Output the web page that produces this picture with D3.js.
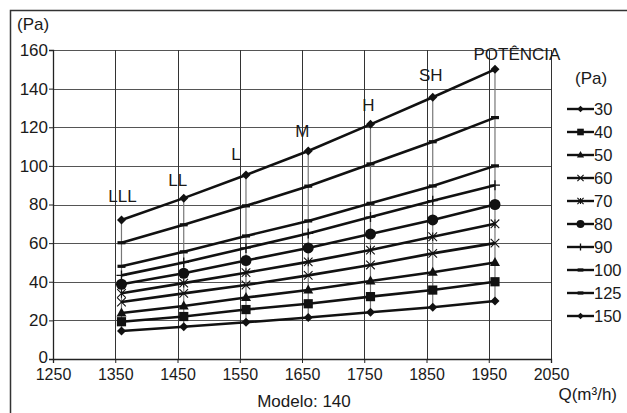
<!DOCTYPE html>
<html>
<head>
<meta charset="utf-8">
<script src="https://cdn.jsdelivr.net/npm/d3@7"></script>
<style>
  body { margin: 0; background: #fff; }
  svg text { font-family: "Liberation Sans", Arial, sans-serif; fill: #1a1a1a; }
</style>
</head>
<body>
<svg id="chart" width="627" height="413"></svg>
<script>
// airflow points (m3/h)
const flows = [1360, 1460, 1560, 1660, 1760, 1860, 1960];
// curve names = pressure at full flow
const seriesNames = ['30', '40', '50', '60', '70', '80', '90', '100', '125', '150'];
const p30  = [14.5, 16.7, 19.0, 21.5, 24.2, 26.8, 30];
const p40  = [19.3, 22.0, 25.6, 28.6, 32.3, 35.7, 40];
const p50  = [23.8, 27.4, 31.8, 35.7, 40.4, 44.9, 50];
const p60  = [29.5, 34.0, 38.3, 43.3, 48.7, 54.7, 60];
const p70  = [34.0, 39.3, 44.7, 50.3, 56.4, 63.3, 70];
const p80  = [38.7, 44.4, 51.0, 57.5, 64.7, 72.0, 80];
const p90  = [43.3, 50.0, 57.5, 65.0, 73.5, 82.0, 90];
const p100 = [48.0, 55.5, 63.7, 71.5, 80.6, 89.6, 100];
const p125 = [60.2, 69.5, 79.3, 89.5, 101.0, 112.5, 125];
const p150 = [72.0, 83.3, 95.3, 107.7, 121.5, 135.5, 150];
const seriesValues = [p30, p40, p50, p60, p70, p80, p90, p100, p125, p150];

const speedLabels = ['LLL', 'LL', 'L', 'M', 'H', 'SH', 'POTÊNCIA'];
const xTicks = [1250, 1350, 1450, 1550, 1650, 1750, 1850, 1950, 2050];
const yTicks = [0, 20, 40, 60, 80, 100, 120, 140, 160];

// styling (not data)
const markerTypes = ['diamond', 'square', 'triangle', 'x', 'star', 'circle', 'plus', 'dash', 'dash', 'diamond'];
const labelShift = [[1, 18], [-6, 12], [-10, 15], [-6, 14], [-2, 13], [-2, 16], [22, 9]];

const svg = d3.select('#chart');
const ink = '#111';

const x = d3.scaleLinear().domain([1250, 2050]).range([53, 551]);
const y = d3.scaleLinear().domain([0, 160]).range([359, 50]);

// outer frame (only top + left visible)
svg.append('path')
  .attr('d', 'M10.5,413 V10.5 H627')
  .attr('fill', 'none').attr('stroke', '#333').attr('stroke-width', 1.5);

// gridlines
const grid = svg.append('g');
grid.selectAll('line.h')
  .data(yTicks.filter(d => d > 0))
  .enter().append('line')
  .attr('x1', x(1250)).attr('x2', x(2050))
  .attr('y1', d => Math.round(y(d)) + 0.5).attr('y2', d => Math.round(y(d)) + 0.5)
  .attr('stroke', '#555').attr('stroke-width', 1);
grid.selectAll('line.v')
  .data(xTicks.filter(d => d > 1250))
  .enter().append('line')
  .attr('x1', d => Math.round(x(d)) + 0.5).attr('x2', d => Math.round(x(d)) + 0.5)
  .attr('y1', y(160)).attr('y2', y(0))
  .attr('stroke', '#333').attr('stroke-width', 1);

// drop lines joining every curve at one flow
svg.append('g').selectAll('line')
  .data(flows.map((f, i) => ({ f, vals: seriesValues.map(s => s[i]) })))
  .enter().append('line')
  .attr('x1', d => x(d.f)).attr('x2', d => x(d.f))
  .attr('y1', d => y(d3.max(d.vals))).attr('y2', d => y(d3.min(d.vals)))
  .attr('stroke', '#777').attr('stroke-width', 1.2);

// axes
const xAxis = svg.append('g')
  .attr('transform', `translate(0,${y(0)})`)
  .call(d3.axisBottom(x).tickValues(xTicks).tickSize(4).tickPadding(6).tickFormat(d3.format('d')));
const yAxis = svg.append('g')
  .attr('transform', `translate(${x(1250)},0)`)
  .call(d3.axisLeft(y).tickValues(yTicks).tickSize(4).tickPadding(1));
[xAxis, yAxis].forEach(a => {
  a.select('.domain').attr('stroke', '#222').attr('stroke-width', 1.3);
  a.selectAll('.tick line').attr('stroke', '#222');
  a.selectAll('text').attr('font-size', 16).attr('fill', '#1a1a1a')
    .attr('font-family', '"Liberation Sans", Arial, sans-serif');
});
yAxis.selectAll('text').attr('font-size', 17);
// the zero label sits a touch higher so it clears the 1250 label
yAxis.selectAll('.tick').filter(d => d === 0).select('text').attr('dy', '0.2em');

// marker drawing
function drawMarker(g, type, s) {
  const k = s;
  if (type === 'diamond') {
    g.append('path').attr('d', `M0,${-4.5 * k}L${4.5 * k},0L0,${4.5 * k}L${-4.5 * k},0Z`).attr('fill', ink);
  } else if (type === 'square') {
    g.append('rect').attr('x', -4.6 * k).attr('y', -4.6 * k).attr('width', 9.2 * k).attr('height', 9.2 * k).attr('fill', ink);
  } else if (type === 'triangle') {
    g.append('path').attr('d', `M0,${-5.5 * k}L${5 * k},${3.5 * k}L${-5 * k},${3.5 * k}Z`).attr('fill', ink);
  } else if (type === 'x') {
    const r = 4.3 * k;
    g.append('path').attr('d', `M${-r},${-r}L${r},${r}M${-r},${r}L${r},${-r}`).attr('stroke', ink).attr('stroke-width', 1.1);
  } else if (type === 'star') {
    const r = 4.3 * k;
    g.append('path').attr('d', `M${-r},${-r}L${r},${r}M${-r},${r}L${r},${-r}M0,${-r}V${r}`).attr('stroke', ink).attr('stroke-width', 1.1);
  } else if (type === 'circle') {
    g.append('circle').attr('r', 5.5 * k).attr('fill', ink);
  } else if (type === 'plus') {
    const r = 5 * k;
    g.append('path').attr('d', `M0,${-r}V${r}M${-r},0H${r}`).attr('stroke', ink).attr('stroke-width', 1.3);
  } else if (type === 'dash') {
    g.append('rect').attr('x', -4 * k).attr('y', -1.6).attr('width', 8 * k).attr('height', 3.2).attr('fill', ink);
  }
}

// curves
const line = d3.line().x(d => x(d.f)).y(d => y(d.v));
const curves = svg.append('g').selectAll('g')
  .data(seriesNames.map((n, i) => ({ name: n, type: markerTypes[i], pts: flows.map((f, j) => ({ f, v: seriesValues[i][j] })) })))
  .enter().append('g');
curves.append('path')
  .attr('d', d => line(d.pts))
  .attr('fill', 'none').attr('stroke', ink).attr('stroke-width', 2.6);
curves.each(function (d) {
  const g = d3.select(this);
  d.pts.forEach(p => {
    drawMarker(g.append('g').attr('transform', `translate(${x(p.f)},${y(p.v)})`), d.type, 1);
  });
});

// speed labels above top curve
svg.append('g').selectAll('text')
  .data(speedLabels)
  .enter().append('text')
  .attr('x', (d, i) => x(flows[i]) + labelShift[i][0])
  .attr('y', (d, i) => y(p150[i]) - labelShift[i][1])
  .attr('text-anchor', 'middle')
  .attr('font-size', 17)
  .text(d => d);

// axis titles
svg.append('text').attr('x', 17).attr('y', 30).attr('font-size', 17).text('(Pa)');
svg.append('text').attr('x', 304).attr('y', 407).attr('text-anchor', 'middle').attr('font-size', 17).text('Modelo: 140');
svg.append('text').attr('x', 617).attr('y', 400).attr('text-anchor', 'end').attr('font-size', 17).text('Q(m³/h)');

// legend
svg.append('text').attr('x', 575).attr('y', 84).attr('font-size', 17).text('(Pa)');
const ly = d3.scalePoint().domain(seriesNames).range([109, 316]);
const leg = svg.append('g').selectAll('g')
  .data(seriesNames.map((n, i) => ({ name: n, type: markerTypes[i] })))
  .enter().append('g')
  .attr('transform', d => `translate(0,${ly(d.name)})`);
leg.append('line').attr('x1', 567).attr('x2', 594).attr('stroke', ink).attr('stroke-width', 2.4);
leg.each(function (d) {
  drawMarker(d3.select(this).append('g').attr('transform', 'translate(580.5,0)'), d.type, 0.72);
});
leg.append('text').attr('x', 594).attr('dy', '0.36em').attr('font-size', 16.5).text(d => d.name);
</script>
</body>
</html>
